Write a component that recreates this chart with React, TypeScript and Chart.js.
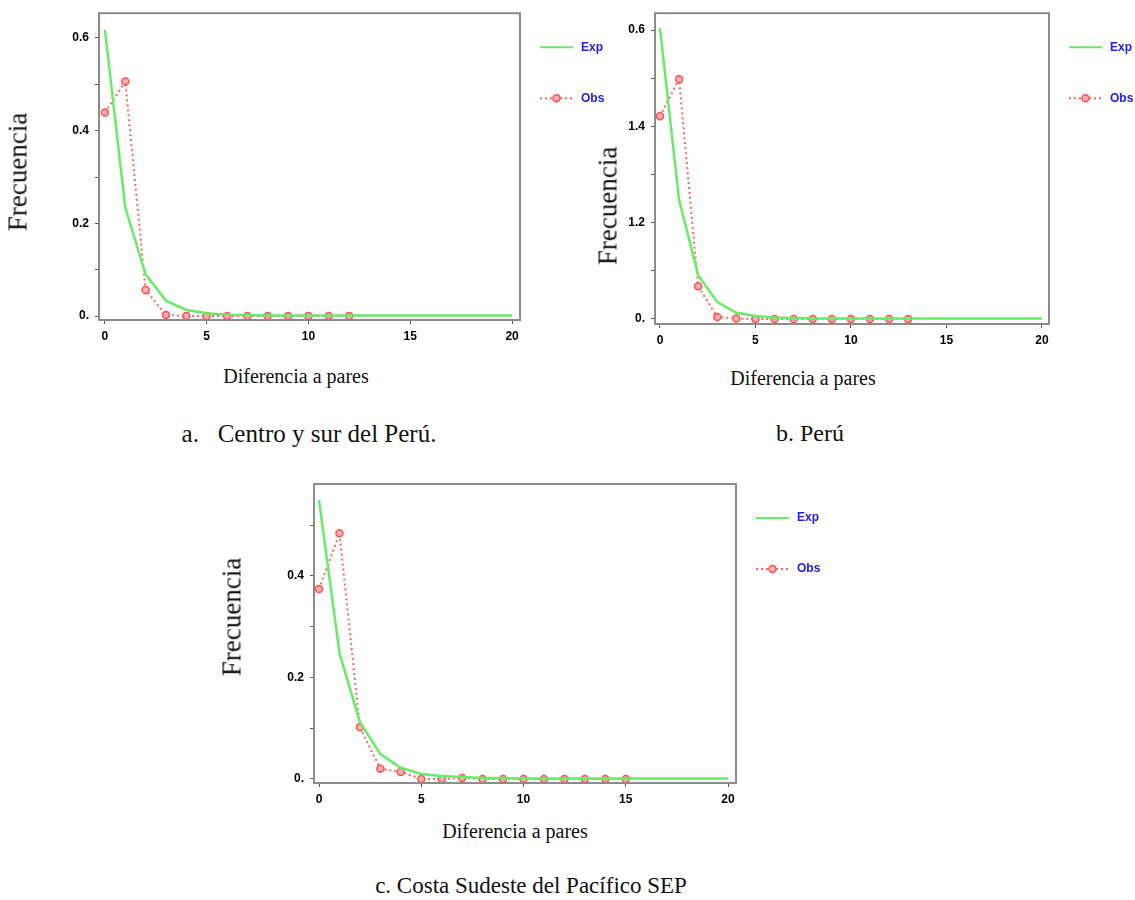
import React, { useEffect, useRef } from "react";
import { Chart, registerables } from "chart.js";

Chart.register(...registerables);

// ---------- DATA ----------
const pairwiseDiffs = [0, 1, 2, 3, 4, 5, 6, 7, 8, 9, 10, 11, 12, 13, 14, 15, 16, 17, 18, 19, 20];
const xTickValues = [0, 5, 10, 15, 20];

// a. Centro y sur del Perú
const expA = [0.618, 0.234, 0.09, 0.033, 0.013, 0.006, 0.003, 0.002, 0.001, 0.001, 0.001, 0.001, 0.001, 0.001, 0.001, 0.001, 0.001, 0.001, 0.001, 0.001, 0.001];
const obsA = [0.439, 0.506, 0.056, 0.002, 0, 0, 0, 0, 0, 0, 0, 0, 0];
const yTicksA = [0, 0.1, 0.2, 0.3, 0.4, 0.5, 0.6];
const yTickLabelsA = ["0.", "", "0.2", "", "0.4", "", "0.6"];

// b. Perú
const expB = [0.604, 0.247, 0.091, 0.035, 0.013, 0.006, 0.003, 0.002, 0.001, 0.001, 0.001, 0.001, 0.001, 0.001, 0.001, 0.001, 0.001, 0.001, 0.001, 0.001, 0.001];
const obsB = [0.421, 0.498, 0.068, 0.004, 0.001, 0, 0, 0, 0, 0, 0, 0, 0, 0];
const yTicksB = [0, 0.1, 0.2, 0.3, 0.4, 0.5, 0.6];
const yTickLabelsB = ["0.", "", "1.2", "", "1.4", "", "0.6"];

// c. Costa Sudeste del Pacífico SEP
const expC = [0.549, 0.248, 0.112, 0.049, 0.022, 0.01, 0.006, 0.004, 0.002, 0.002, 0.001, 0.001, 0.001, 0.001, 0.001, 0.001, 0.001, 0.001, 0.001, 0.001, 0.001];
const obsC = [0.374, 0.484, 0.102, 0.02, 0.014, 0, 0, 0.002, 0, 0, 0, 0, 0, 0, 0, 0];
const yTicksC = [0, 0.1, 0.2, 0.3, 0.4, 0.5];
const yTickLabelsC = ["0.", "", "0.2", "", "0.4", ""];

const legendLabels = ["Exp", "Obs"];
const xTitle = "Diferencia a pares";
const yTitle = "Frecuencia";

// ---------- STYLE ----------
const EXP_COLOR = "#66ec66";
const OBS_COLOR = "#ff6464";
const TICK_FONT = { family: "'Liberation Sans Narrow', 'Liberation Sans', Arial, sans-serif", size: 12, weight: "bold" as const };
const SERIF = "'Liberation Serif', 'Times New Roman', serif";

type Box = { left: number; top: number; width: number; height: number };
type Plot = { left: number; top: number; right: number; bottom: number };

type Props = {
  box: Box;
  plot: Plot;
  xMin: number;
  xMax: number;
  yMin: number;
  yMax: number;
  exp: number[];
  obs: number[];
  yTicks: number[];
  yTickLabels: string[];
};

const framePlugin = {
  id: "frame",
  afterDraw(chart: any) {
    const { ctx, chartArea } = chart;
    ctx.save();
    ctx.strokeStyle = "#8c8c8c";
    ctx.lineWidth = 2;
    ctx.strokeRect(chartArea.left, chartArea.top, chartArea.right - chartArea.left, chartArea.bottom - chartArea.top);
    ctx.restore();
  },
};

const legendPlugin = {
  id: "customLegend",
  afterDraw(chart: any) {
    const { ctx, chartArea } = chart;
    const x0 = chartArea.right + 20;
    const x1 = chartArea.right + 53;
    const tx = chartArea.right + 61;
    const y1 = chartArea.top + 34;
    const y2 = chartArea.top + 85;
    ctx.save();
    // Exp
    ctx.strokeStyle = EXP_COLOR;
    ctx.lineWidth = 2;
    ctx.beginPath();
    ctx.moveTo(x0, y1);
    ctx.lineTo(x1, y1);
    ctx.stroke();
    // Obs
    ctx.strokeStyle = OBS_COLOR;
    ctx.setLineDash([2, 3]);
    ctx.beginPath();
    ctx.moveTo(x0, y2);
    ctx.lineTo(x1, y2);
    ctx.stroke();
    ctx.setLineDash([]);
    ctx.beginPath();
    ctx.arc((x0 + x1) / 2, y2, 3.5, 0, Math.PI * 2);
    ctx.fillStyle = "#ffb0b0";
    ctx.fill();
    ctx.lineWidth = 1.5;
    ctx.strokeStyle = "#ff5050";
    ctx.stroke();
    // Text
    ctx.fillStyle = "#2020ee";
    ctx.font = "bold 12px 'Liberation Sans Narrow', 'Liberation Sans', Arial, sans-serif";
    ctx.textBaseline = "middle";
    ctx.textAlign = "left";
    ctx.fillText(legendLabels[0], tx, y1);
    ctx.fillText(legendLabels[1], tx, y2);
    ctx.restore();
  },
};

function MismatchChart({ box, plot, xMin, xMax, yMin, yMax, exp, obs, yTicks, yTickLabels }: Props) {
  const ref = useRef<HTMLCanvasElement | null>(null);
  useEffect(() => {
    if (!ref.current) return;
    const chart = new Chart(ref.current, {
      type: "line",
      data: {
        datasets: [
          {
            label: legendLabels[0],
            data: exp.map((v, i) => ({ x: pairwiseDiffs[i], y: v })),
            borderColor: EXP_COLOR,
            borderWidth: 2.5,
            pointRadius: 0,
            tension: 0,
            fill: false,
          },
          {
            label: legendLabels[1],
            data: obs.map((v, i) => ({ x: pairwiseDiffs[i], y: v })),
            borderColor: OBS_COLOR,
            borderWidth: 2,
            borderDash: [2, 3],
            pointRadius: 3.5,
            pointBackgroundColor: "#ffb0b0",
            pointBorderColor: "#ff5050",
            pointBorderWidth: 1.5,
            tension: 0,
            fill: false,
          },
        ],
      },
      options: {
        animation: false,
        responsive: false,
        maintainAspectRatio: false,
        layout: {
          padding: {
            left: 0,
            top: plot.top - box.top,
            right: box.left + box.width - plot.right,
            bottom: 0,
          },
        },
        plugins: {
          legend: { display: false },
          tooltip: { enabled: false },
        },
        scales: {
          x: {
            type: "linear",
            min: xMin,
            max: xMax,
            afterFit: (s: any) => {
              s.height = box.top + box.height - plot.bottom;
            },
            afterBuildTicks: (s: any) => {
              s.ticks = xTickValues.map((v) => ({ value: v }));
            },
            grid: { display: true, drawOnChartArea: false, drawTicks: true, tickLength: 4, color: "#555", lineWidth: 1 },
            border: { display: false },
            ticks: {
              font: TICK_FONT,
              color: "#000",
              padding: 5,
              maxRotation: 0,
              autoSkip: false,
              callback: (v: any) => String(v),
            },
          },
          y: {
            type: "linear",
            min: yMin,
            max: yMax,
            afterFit: (s: any) => {
              s.width = plot.left - box.left;
            },
            afterBuildTicks: (s: any) => {
              s.ticks = yTicks.map((v) => ({ value: v }));
            },
            grid: { display: true, drawOnChartArea: false, drawTicks: true, tickLength: 4, color: "#555", lineWidth: 1 },
            border: { display: false },
            ticks: {
              font: TICK_FONT,
              color: "#000",
              padding: 6,
              autoSkip: false,
              callback: (_v: any, i: number) => yTickLabels[i],
            },
          },
        },
      },
      plugins: [framePlugin, legendPlugin],
    });
    return () => chart.destroy();
  }, []);
  return (
    <canvas
      ref={ref}
      width={box.width}
      height={box.height}
      style={{ position: "absolute", left: box.left, top: box.top, width: box.width, height: box.height }}
    />
  );
}

function Label({ text, x, y, size, rotate }: { text: string; x: number; y: number; size: number; rotate?: boolean }) {
  return (
    <div
      style={{
        position: "absolute",
        left: x,
        top: y,
        transform: `translate(-50%, -50%)${rotate ? " rotate(-90deg)" : ""}`,
        fontFamily: SERIF,
        fontSize: size,
        lineHeight: 1,
        whiteSpace: "pre",
        color: "#111",
      }}
    >
      {text}
    </div>
  );
}

export default function App() {
  return (
    <div style={{ position: "absolute", left: 0, top: 0, width: 1135, height: 900, background: "#fff", overflow: "hidden" }}>
      <MismatchChart
        box={{ left: 0, top: 0, width: 620, height: 345 }}
        plot={{ left: 99, top: 11, right: 520, bottom: 320 }}
        xMin={-0.29}
        xMax={20.39}
        yMin={-0.0086}
        yMax={0.6535}
        exp={expA}
        obs={obsA}
        yTicks={yTicksA}
        yTickLabels={yTickLabelsA}
      />
      <MismatchChart
        box={{ left: 590, top: 0, width: 545, height: 348 }}
        plot={{ left: 655, top: 13, right: 1049, bottom: 324 }}
        xMin={-0.26}
        xMax={20.37}
        yMin={-0.0104}
        yMax={0.635}
        exp={expB}
        obs={obsB}
        yTicks={yTicksB}
        yTickLabels={yTickLabelsB}
      />
      <MismatchChart
        box={{ left: 214, top: 470, width: 620, height: 337 }}
        plot={{ left: 314, top: 484, right: 736, bottom: 783 }}
        xMin={-0.245}
        xMax={20.39}
        yMin={-0.0079}
        yMax={0.581}
        exp={expC}
        obs={obsC}
        yTicks={yTicksC}
        yTickLabels={yTickLabelsC}
      />

      <Label text={yTitle} x={18} y={172} size={27} rotate />
      <Label text={yTitle} x={608} y={206} size={27} rotate />
      <Label text={yTitle} x={232} y={617} size={27} rotate />

      <Label text={xTitle} x={296} y={376} size={20} />
      <Label text={xTitle} x={803} y={378} size={20} />
      <Label text={xTitle} x={515} y={831} size={20} />

      <Label text={"a.   Centro y sur del Perú."} x={309} y={433} size={25} />
      <Label text={"b. Perú"} x={810} y={433} size={24} />
      <Label text={"c. Costa Sudeste del Pacífico SEP"} x={531} y={885} size={23} />
    </div>
  );
}
